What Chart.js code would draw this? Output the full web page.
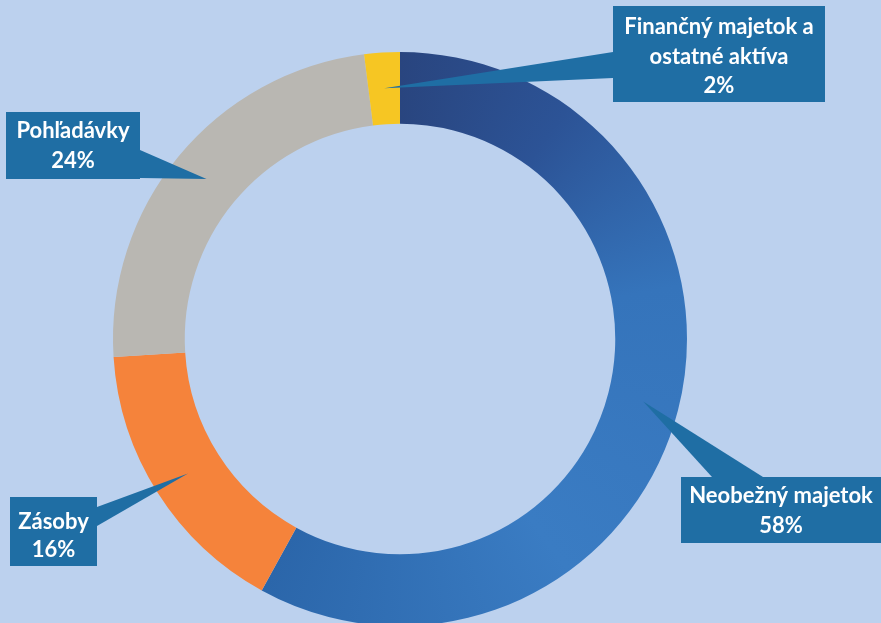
<!DOCTYPE html>
<html>
<head>
<meta charset="utf-8">
<script src="https://cdn.jsdelivr.net/npm/chart.js@4"></script>
<style>
    html, body { margin: 0; padding: 0; overflow: hidden; background: #bcd1ee; }
    #wrap { position: absolute; left: 0; top: 0; width: 881px; height: 680px; }
</style>
</head>
<body>
<div id="wrap"><canvas id="chart"></canvas></div>
<script>
const categories = ["Neobežný majetok", "Zásoby", "Pohľadávky", "Finančný majetok a ostatné aktíva"];
const shares = [58, 16, 24, 2];
const labelLines = [
    ["Neobežný majetok", "58%"],
    ["Zásoby", "16%"],
    ["Pohľadávky", "24%"],
    ["Finančný majetok a", "ostatné aktíva", "2%"],
];
const sliceColors = [null, "#f5833b", "#b9b7b2", "#f6c623"];

// callout boxes: [x, y, w, h], wedge base points on the box edge
const callouts = [
    { box: [681, 477, 200, 66], base: [[712, 477], [763, 477]], lineY: [496, 526] },
    { box: [10, 497, 87, 69], base: [[97, 507], [97, 526]], lineY: [522, 550] },
    { box: [6, 112, 134, 67], base: [[140, 150], [140, 178]], lineY: [131, 161] },
    { box: [613, 6, 212, 96], base: [[613, 52], [613, 78]], lineY: [27, 57, 86] },
];

function blueGradient(chart) {
    const area = chart.chartArea;
    if (!area || !isFinite(area.left) || !isFinite(area.top)) {
        return "#2f63a8";
    }
    const cx = (area.left + area.right) / 2;
    const cy = (area.top + area.bottom) / 2;
    const g = chart.ctx.createConicGradient(-Math.PI / 2, cx, cy);
    g.addColorStop(0, "#29457f");
    g.addColorStop(0.1, "#2c5396");
    g.addColorStop(0.22, "#3574bb");
    g.addColorStop(0.4, "#3a7cc3");
    g.addColorStop(0.58, "#2b66aa");
    g.addColorStop(1, "#29457f");
    return g;
}

const calloutPlugin = {
    id: "callouts",
    afterDatasetsDraw(chart) {
        const ctx = chart.ctx;
        const arcs = chart.getDatasetMeta(0).data;
        ctx.save();
        callouts.forEach((c, i) => {
            const tip = arcs[i].tooltipPosition();
            ctx.fillStyle = "#1f6ea4";
            ctx.beginPath();
            ctx.moveTo(c.base[0][0], c.base[0][1]);
            ctx.lineTo(tip.x, tip.y);
            ctx.lineTo(c.base[1][0], c.base[1][1]);
            ctx.closePath();
            ctx.fill();
            ctx.fillRect(c.box[0], c.box[1], c.box[2], c.box[3]);
            ctx.fillStyle = "#ffffff";
            ctx.font = "bold 22px Lato";
            ctx.textAlign = "center";
            ctx.textBaseline = "middle";
            labelLines[i].forEach((line, j) => {
                ctx.fillText(line, c.box[0] + c.box[2] / 2, c.lineY[j]);
            });
        });
        ctx.restore();
    },
};

new Chart(document.getElementById("chart"), {
    type: "doughnut",
    data: {
        labels: categories,
        datasets: [{
            data: shares,
            backgroundColor: (c) => (c.dataIndex === 0 ? blueGradient(c.chart) : sliceColors[c.dataIndex]),
            borderWidth: 0,
        }],
    },
    options: {
        responsive: true,
        maintainAspectRatio: false,
        animation: false,
        cutout: "75%",
        layout: { padding: { left: 113, right: 194, top: 52, bottom: 54 } },
        plugins: {
            legend: { display: false },
            tooltip: { enabled: false },
        },
    },
    plugins: [calloutPlugin],
});
</script>
</body>
</html>
